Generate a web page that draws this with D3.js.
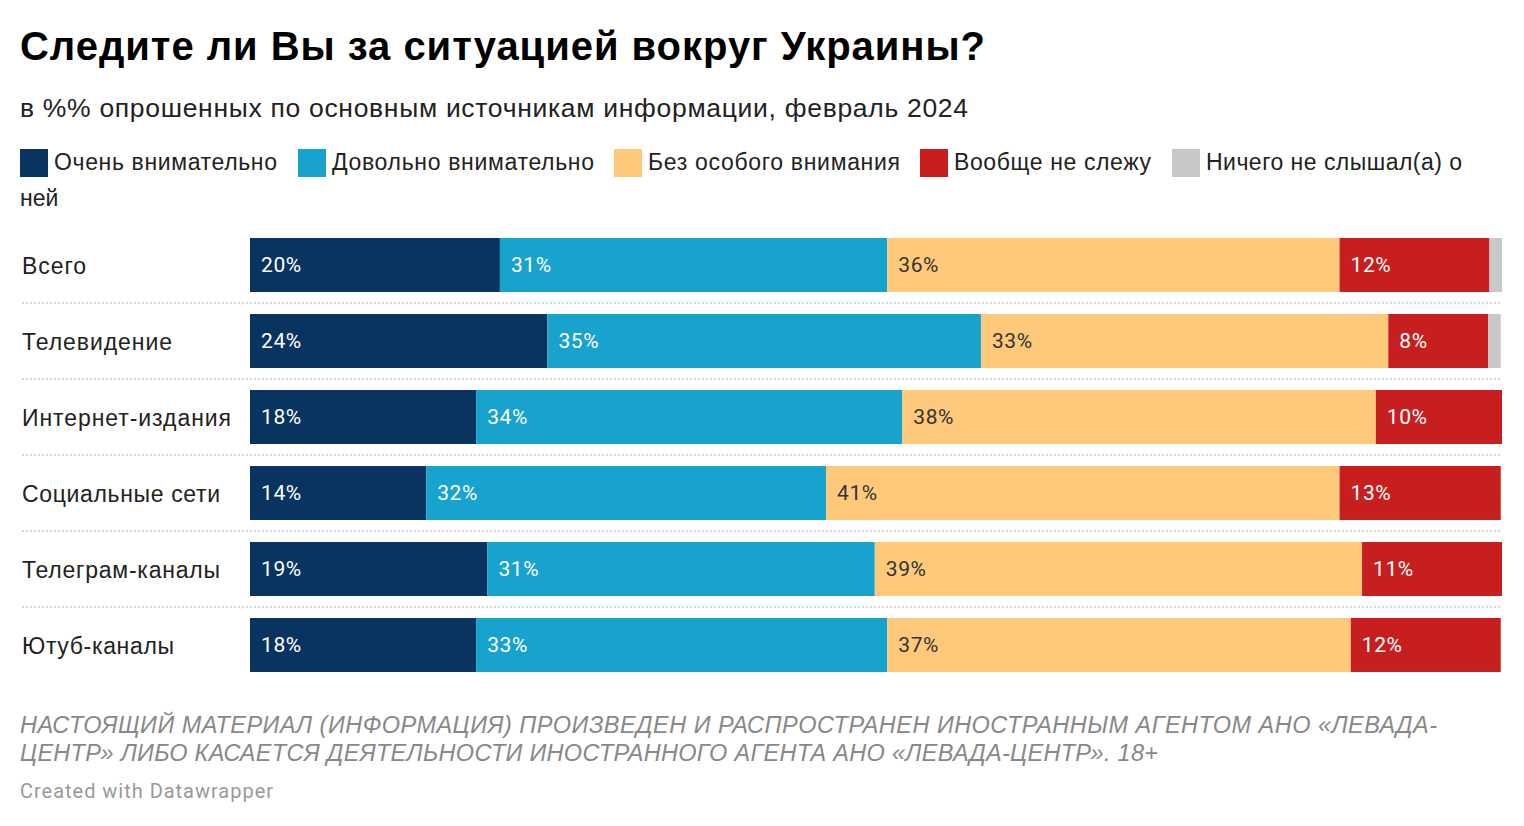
<!DOCTYPE html>
<html><head><meta charset="utf-8">
<script src="https://cdn.jsdelivr.net/npm/d3@7"></script>
<style>body{margin:0;background:#fff;font-family:"Liberation Sans",Arial,sans-serif}</style>
</head><body><svg id="c" width="1524" height="826"></svg>
<script>
const categories=["Всего","Телевидение","Интернет-издания","Социальные сети","Телеграм-каналы","Ютуб-каналы"];
const seriesNames=["Очень внимательно","Довольно внимательно","Без особого внимания","Вообще не слежу","Ничего не слышал(а) о ней"];
const colors=["#08345f","#18a2ce","#fec97b","#c71f1f","#c8c8c8"];
const textColors=["#fff","#fff","#333","#fff","#333"];
const veryAttentive=[20,23.8,18.1,14.1,19,18.1];
const ratherAttentive=[31,34.7,34.1,32,31,32.9];
const withoutAttention=[36.2,32.6,37.9,41.1,39,37.1];
const notFollowing=[12,8,10.1,12.9,11.2,12];
const neverHeard=[1,1,0,0,0,0];
const labelVals=[[20,31,36,12,null],[24,35,33,8,null],[18,34,38,10,null],[14,32,41,13,null],[19,31,39,11,null],[18,33,37,12,null]];
const svg=d3.select("#c");
svg.append("text").attr("x",20).attr("y",60).attr("font-size",40).attr("font-weight",700).attr("textLength",965).text("Следите ли Вы за ситуацией вокруг Украины?");
svg.append("text").attr("x",20).attr("y",117).attr("font-size",26.5).attr("fill","#222").attr("textLength",948).text("в %% опрошенных по основным источникам информации, февраль 2024");
const legX=[20,298,614,920,1172];
const legEnd=[277,594,900,1151,1462];
seriesNames.forEach((n,i)=>{
  svg.append("rect").attr("x",legX[i]).attr("y",149).attr("width",28).attr("height",28).attr("fill",colors[i]);
  const t=svg.append("text").attr("x",legX[i]+34).attr("y",170).attr("font-size",23).attr("fill","#222").attr("textLength",legEnd[i]-legX[i]-34);
  if(i===4){t.text("Ничего не слышал(а) о");svg.append("text").attr("x",20).attr("y",206).attr("font-size",23).attr("fill","#222").text("ней");}
  else t.text(n);
});
const x=d3.scaleLinear().domain([0,100.2]).range([250,1502]);
const y=d3.scaleBand().domain(categories).range([228,684]).paddingInner(0.29).paddingOuter(0.145);
const series=[veryAttentive,ratherAttentive,withoutAttention,notFollowing,neverHeard];
const catW=[86,172,231,220,220,174];
categories.forEach((c,r)=>{
  let acc=0;
  const yy=y(c)-1;
  svg.append("text").attr("x",22).attr("y",yy+y.bandwidth()/2+9).attr("font-size",23).attr("fill","#222").attr("textLength",catW[r]-22).text(c);
  series.forEach((s,i)=>{
    const v=s[r]; if(!v) return;
    svg.append("rect").attr("x",x(acc)).attr("y",yy).attr("width",x(acc+v)-x(acc)).attr("height",y.bandwidth()).attr("fill",colors[i]);
    if(labelVals[r][i]!=null) svg.append("text").attr("x",x(acc)+11).attr("y",yy+y.bandwidth()/2+7).attr("font-family","Roboto").attr("font-size",21).attr("letter-spacing",0.6).attr("fill",textColors[i]).text(labelVals[r][i]+"%");
    acc+=v;
  });
  if(r<categories.length-1){
    const ly=yy+y.bandwidth()+(y.step()-y.bandwidth())/2;
    svg.append("line").attr("x1",22).attr("x2",1502).attr("y1",ly).attr("y2",ly).attr("stroke","#ccc").attr("stroke-width",1.5).attr("stroke-dasharray","2,2");
  }
});
const f=[["НАСТОЯЩИЙ МАТЕРИАЛ (ИНФОРМАЦИЯ) ПРОИЗВЕДЕН И РАСПРОСТРАНЕН ИНОСТРАННЫМ АГЕНТОМ АНО «ЛЕВАДА-",1417],["ЦЕНТР» ЛИБО КАСАЕТСЯ ДЕЯТЕЛЬНОСТИ ИНОСТРАННОГО АГЕНТА АНО «ЛЕВАДА-ЦЕНТР». 18+",1138]];
f.forEach((s,i)=>svg.append("text").attr("x",20).attr("y",733+i*28).attr("font-size",23.5).attr("font-style","italic").attr("fill","#888").attr("textLength",s[1]).text(s[0]));
svg.append("text").attr("x",20).attr("y",798).attr("font-family","Roboto").attr("font-size",20).attr("fill","#999").attr("textLength",253).text("Created with Datawrapper");
</script></body></html>
